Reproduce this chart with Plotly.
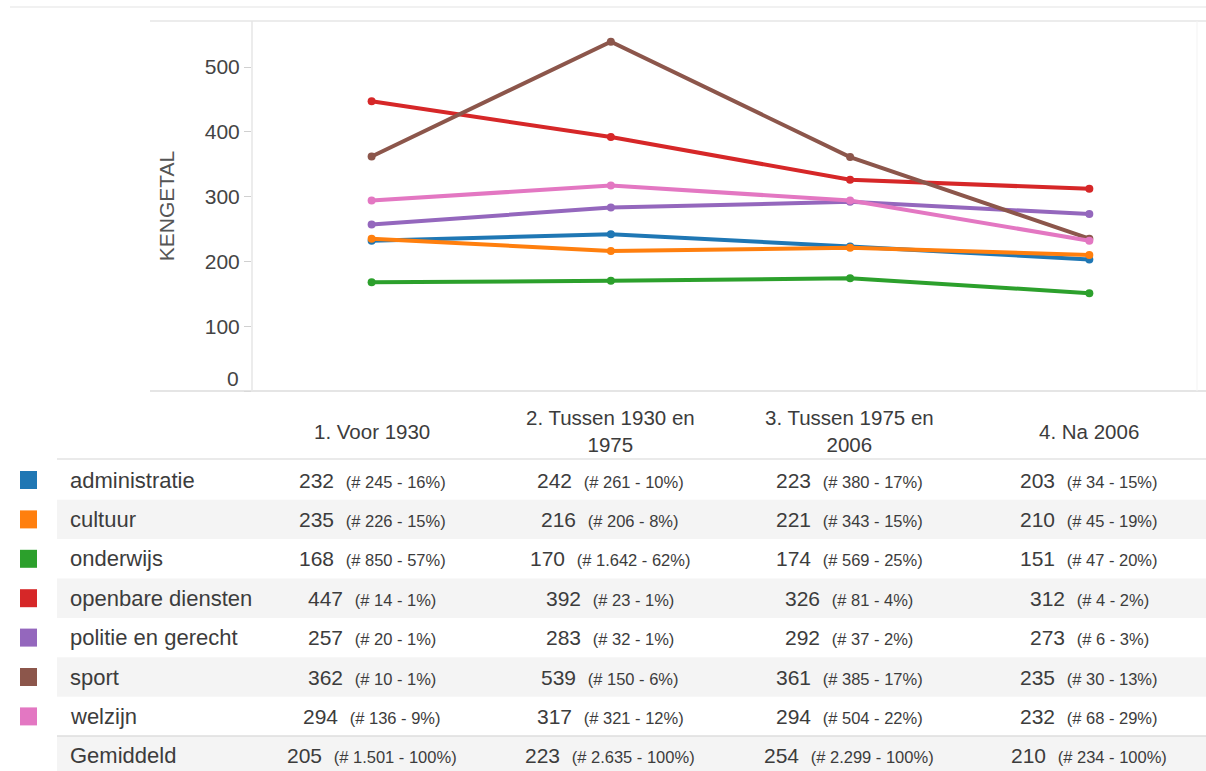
import plotly.graph_objects as go

W, H = 1206, 771

categories = ["1. Voor 1930", "2. Tussen 1930 en 1975", "3. Tussen 1975 en 2006", "4. Na 2006"]
header_labels = ["1. Voor 1930", "2. Tussen 1930 en<br>1975", "3. Tussen 1975 en<br>2006", "4. Na 2006"]

series_names = ["administratie", "cultuur", "onderwijs", "openbare diensten",
                "politie en gerecht", "sport", "welzijn"]
colors = ["#1f77b4", "#ff7f0e", "#2ca02c", "#d62728", "#9467bd", "#8c564b", "#e377c2"]

administratie = [232, 242, 223, 203]
cultuur = [235, 216, 221, 210]
onderwijs = [168, 170, 174, 151]
openbare_diensten = [447, 392, 326, 312]
politie_en_gerecht = [257, 283, 292, 273]
sport = [362, 539, 361, 235]
welzijn = [294, 317, 294, 232]

administratie_n = [245, 261, 380, 34]
cultuur_n = [226, 206, 343, 45]
onderwijs_n = [850, 1642, 569, 47]
openbare_diensten_n = [14, 23, 81, 4]
politie_en_gerecht_n = [20, 32, 37, 6]
sport_n = [10, 150, 385, 30]
welzijn_n = [136, 321, 504, 68]

administratie_pct = [16, 10, 17, 15]
cultuur_pct = [15, 8, 15, 19]
onderwijs_pct = [57, 62, 25, 20]
openbare_diensten_pct = [1, 1, 4, 2]
politie_en_gerecht_pct = [1, 1, 2, 3]
sport_pct = [1, 6, 17, 13]
welzijn_pct = [9, 12, 22, 29]

gemiddeld = [205, 223, 254, 210]
gemiddeld_n = [1501, 2635, 2299, 234]
gemiddeld_pct = [100, 100, 100, 100]

y_ticks = [0, 100, 200, 300, 400, 500]

values = [administratie, cultuur, onderwijs, openbare_diensten, politie_en_gerecht, sport, welzijn]
counts = [administratie_n, cultuur_n, onderwijs_n, openbare_diensten_n, politie_en_gerecht_n, sport_n, welzijn_n]
pcts = [administratie_pct, cultuur_pct, onderwijs_pct, openbare_diensten_pct, politie_en_gerecht_pct, sport_pct, welzijn_pct]


def px(x):
    return x / W


def py(y):
    return 1 - y / H


def fmt_n(n):
    return f"{n:,}".replace(",", ".")


FONT = "Helvetica Neue, Helvetica, Arial, Liberation Sans, sans-serif"
TXT = "#3c3c3c"

# plot area in pixels
PL, PR, PT, PB = 252, 1197, 21, 391

fig = go.Figure()
for name, vals, col in zip(series_names, values, colors):
    fig.add_trace(go.Scatter(
        x=categories, y=vals, name=name, mode="lines+markers",
        line=dict(color=col, width=4), marker=dict(color=col, size=8),
        showlegend=False,
    ))

shapes = []
annotations = []

# frame lines
line_col = "#e6e6e6"
shapes.append(dict(type="line", xref="paper", yref="paper", x0=px(10), x1=1, y0=py(7), y1=py(7),
                   line=dict(color="#ececec", width=1.5)))
shapes.append(dict(type="line", xref="paper", yref="paper", x0=px(150), x1=1, y0=py(PT), y1=py(PT),
                   line=dict(color=line_col, width=1.5)))
shapes.append(dict(type="line", xref="paper", yref="paper", x0=px(150), x1=1, y0=py(PB), y1=py(PB),
                   line=dict(color="#dcdcdc", width=1.5)))
shapes.append(dict(type="line", xref="paper", yref="paper", x0=px(PL), x1=px(PL), y0=py(PB), y1=py(PT),
                   line=dict(color=line_col, width=1.5)))
shapes.append(dict(type="line", xref="paper", yref="paper", x0=px(PR), x1=px(PR), y0=py(PB), y1=py(PT),
                   line=dict(color="#f3f3f3", width=1)))

# "0" tick label sits a little above the baseline in the original
annotations.append(dict(xref="paper", yref="y", x=px(241), y=y_ticks[0], yshift=13, text=str(y_ticks[0]),
                        showarrow=False, xanchor="right", yanchor="middle",
                        font=dict(family=FONT, size=21, color="#444")))

# table
col_x = [372, 610, 849, 1089]
header_y = 431
row_y0 = 480
row_h = 39.4
band_left = 57

for cx, lab in zip(col_x, header_labels):
    annotations.append(dict(xref="paper", yref="paper", x=px(cx), y=py(header_y), text=lab,
                            showarrow=False, xanchor="center", yanchor="middle", align="center",
                            font=dict(family=FONT, size=20.5, color=TXT)))

shapes.append(dict(type="line", xref="paper", yref="paper", x0=px(band_left), x1=1, y0=py(459), y1=py(459),
                   line=dict(color="#e3e3e3", width=1.5)))

rows = []
for i, name in enumerate(series_names):
    cells = [f"{values[i][j]}\u00a0\u00a0<span style='font-size:16.5px'>(# {fmt_n(counts[i][j])} - {pcts[i][j]}%)</span>"
             for j in range(len(categories))]
    rows.append((name, cells, colors[i]))
cells = [f"{gemiddeld[j]}\u00a0\u00a0<span style='font-size:16.5px'>(# {fmt_n(gemiddeld_n[j])} - {gemiddeld_pct[j]}%)</span>"
         for j in range(len(categories))]
rows.append(("Gemiddeld", cells, None))

for r, (name, cells, col) in enumerate(rows):
    cy = row_y0 + r * row_h
    if r % 2 == 1:
        shapes.append(dict(type="rect", xref="paper", yref="paper", x0=px(band_left), x1=1,
                           y0=py(cy + row_h / 2), y1=py(cy - row_h / 2),
                           fillcolor="#f4f4f4", line=dict(width=0), layer="below"))
    if col is not None:
        shapes.append(dict(type="rect", xref="paper", yref="paper", x0=px(20), x1=px(37),
                           y0=py(cy + 9), y1=py(cy - 9), fillcolor=col, line=dict(width=0)))
    annotations.append(dict(xref="paper", yref="paper", x=px(68), y=py(cy), text=name,
                            showarrow=False, xanchor="left", yanchor="middle",
                            font=dict(family=FONT, size=22, color=TXT)))
    for cx, c in zip(col_x, cells):
        annotations.append(dict(xref="paper", yref="paper", x=px(cx), y=py(cy), text=c,
                                showarrow=False, xanchor="center", yanchor="middle",
                                font=dict(family=FONT, size=21, color=TXT)))

gem_y = row_y0 + 7 * row_h
shapes.append(dict(type="line", xref="paper", yref="paper", x0=px(band_left), x1=1,
                   y0=py(gem_y - row_h / 2), y1=py(gem_y - row_h / 2),
                   line=dict(color="#dedede", width=1.5)))

fig.update_layout(
    width=W, height=H,
    margin=dict(l=0, r=0, t=0, b=0),
    paper_bgcolor="white", plot_bgcolor="white",
    xaxis=dict(domain=[px(PL), px(PR)], type="category", range=[-0.5, 3.45],
               showticklabels=False, showgrid=False, zeroline=False, showline=False, ticks=""),
    yaxis=dict(domain=[py(PB), py(PT)], range=[0, 571], tickvals=y_ticks,
               ticktext=[""] + [str(v) for v in y_ticks[1:]],
               showgrid=False, zeroline=False, showline=False, ticks="outside", ticklen=7,
               tickcolor="#d0d0d0", tickfont=dict(family=FONT, size=21, color="#444"),
               title=dict(text="KENGETAL", standoff=24, font=dict(family=FONT, size=21, color="#555"))),
    shapes=shapes,
    annotations=annotations,
)

fig.write_html("out.html", config={"displayModeBar": False},
               post_script="document.body.style.margin='0px';document.body.style.overflow='hidden';")
